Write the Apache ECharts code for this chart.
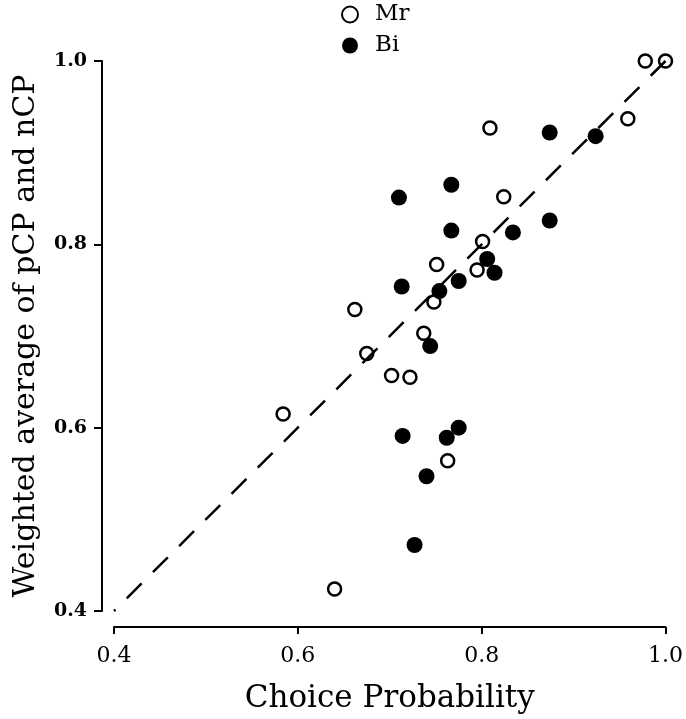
<!DOCTYPE html>
<html><head><meta charset="utf-8">
<script src="https://cdn.jsdelivr.net/npm/echarts@6/dist/echarts.min.js"></script>
<style>html,body{margin:0;padding:0;background:#fff}#c{width:686px;height:719px}</style>
</head><body><div id="c"></div>
<script>
// ---- data ----
const seriesNames = ['Mr', 'Bi'];
const xTitle = 'Choice Probability';
const yTitle = 'Weighted average of pCP and nCP';
const axisMin = 0.4, axisMax = 1.0, axisStep = 0.2;
// Mr (open circles): [choice probability, weighted average]
const mrPoints = [
  [0.978, 1.000], [1.000, 1.000], [0.959, 0.937], [0.809, 0.927],
  [0.824, 0.852], [0.801, 0.803], [0.795, 0.772], [0.751, 0.778],
  [0.748, 0.737], [0.662, 0.729], [0.737, 0.703], [0.675, 0.681],
  [0.702, 0.657], [0.722, 0.655], [0.584, 0.615], [0.763, 0.564],
  [0.640, 0.424]
];
// Bi (filled circles)
const biPoints = [
  [0.924, 0.918], [0.874, 0.922], [0.767, 0.865], [0.710, 0.851],
  [0.874, 0.826], [0.767, 0.815], [0.834, 0.813], [0.806, 0.784],
  [0.814, 0.769], [0.775, 0.760], [0.754, 0.749], [0.713, 0.754],
  [0.744, 0.689], [0.714, 0.591], [0.775, 0.600], [0.762, 0.589],
  [0.740, 0.547], [0.727, 0.472]
];
// identity reference line
const identityLine = [[0.4, 0.4], [1.0, 1.0]];

const FONT = 'DejaVu Serif';
const chart = echarts.init(document.getElementById('c'));
chart.setOption({
  animation: false,
  backgroundColor: '#fff',
  grid: { left: 114, right: 19, top: 61, bottom: 107, containLabel: false },
  legend: {
    data: seriesNames,
    orient: 'vertical',
    left: 336, top: -2,
    itemGap: 8, itemWidth: 16, itemHeight: 16,
    textStyle: { fontFamily: FONT, fontSize: 23, color: '#000', padding: [0, 0, 0, 12] }
  },
  xAxis: {
    type: 'value', min: axisMin, max: axisMax, interval: axisStep,
    offset: 16,
    name: xTitle, nameLocation: 'middle', nameGap: 56,
    nameTextStyle: { fontFamily: FONT, fontSize: 31, color: '#000' },
    axisLine: { show: true, onZero: false, lineStyle: { color: '#000', width: 2 } },
    axisTick: { show: true, length: 7, lineStyle: { color: '#000', width: 2 } },
    axisLabel: { margin: 18, fontFamily: FONT, fontSize: 22, color: '#000',
      formatter: v => v.toFixed(1) },
    splitLine: { show: false }
  },
  yAxis: {
    type: 'value', min: axisMin, max: axisMax, interval: axisStep,
    offset: 12,
    name: yTitle, nameLocation: 'middle', nameRotate: 90, nameGap: 61,
    nameTextStyle: { fontFamily: FONT, fontSize: 30, color: '#000' },
    axisLine: { show: true, onZero: false, lineStyle: { color: '#000', width: 2 } },
    axisTick: { show: true, length: 8, lineStyle: { color: '#000', width: 2 } },
    axisLabel: { margin: 15, fontFamily: FONT, fontSize: 19, fontWeight: 'bold', color: '#000',
      formatter: v => v.toFixed(1) },
    splitLine: { show: false }
  },
  series: [
    {
      type: 'line', data: identityLine, symbol: 'none', silent: true,
      lineStyle: { color: '#000', width: 2.5, type: [21, 16], dashOffset: 19 },
      z: 1
    },
    {
      name: seriesNames[0], type: 'scatter', data: mrPoints, symbol: 'circle', symbolSize: 13,
      itemStyle: { color: 'rgba(255,255,255,0)', borderColor: '#000', borderWidth: 2.5, opacity: 1 },
      z: 3
    },
    {
      name: seriesNames[1], type: 'scatter', data: biPoints, symbol: 'circle', symbolSize: 16,
      itemStyle: { color: '#000', borderColor: '#000', borderWidth: 0, opacity: 1 },
      z: 3
    }
  ]
});
</script></body></html>
